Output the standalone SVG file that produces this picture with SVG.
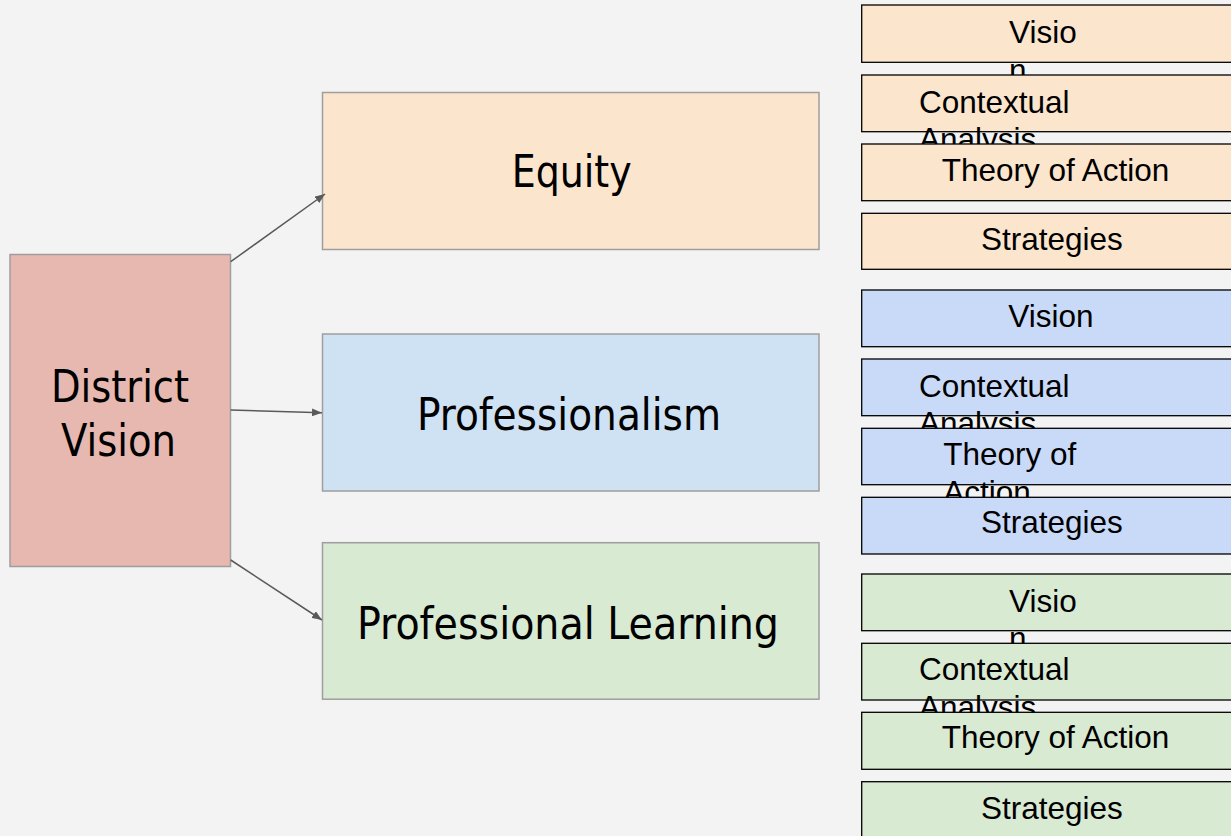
<svg xmlns="http://www.w3.org/2000/svg" width="1231" height="836" viewBox="0 0 1231 836">
<style>
.main{stroke:#9e9e9e;stroke-width:1.5}
.sub{stroke:#000;stroke-width:1.3}
.big{font-family:"DejaVu Sans Condensed","DejaVu Sans",sans-serif;font-size:45px;fill:#000;text-anchor:middle}
.sm{font-family:"Liberation Sans",Arial,sans-serif;font-size:31.5px;fill:#000}
.or{fill:#fce5cd}.bl{fill:#c9daf8}.gr{fill:#d9ead3}
.conn{stroke:#595959;stroke-width:1.5;fill:none}
</style>
<defs>
<marker id="ah" viewBox="0 0 10 8" refX="10" refY="4" markerWidth="10" markerHeight="8" markerUnits="userSpaceOnUse" orient="auto">
<path d="M0,0 L10,4 L0,8 Z" fill="#595959"/>
</marker>
</defs>
<rect width="1231" height="836" fill="#f3f3f3"/>
<g id="district-vision">
<rect class="main" x="10" y="254.5" width="220.5" height="312" fill="#e6b8af"/>
<text class="big" x="120" y="402" textLength="138" lengthAdjust="spacingAndGlyphs">District</text>
<text class="big" x="118.5" y="456" textLength="115" lengthAdjust="spacingAndGlyphs">Vision</text>
</g>
<g id="equity">
<rect class="main" x="322.5" y="92.5" width="496.5" height="157" fill="#fce5cd"/>
<text class="big" x="571.7" y="187" textLength="120" lengthAdjust="spacingAndGlyphs">Equity</text>
</g>
<g id="professionalism">
<rect class="main" x="322.5" y="334" width="496.5" height="157" fill="#cfe2f3"/>
<text class="big" x="569" y="430" textLength="304" lengthAdjust="spacingAndGlyphs">Professionalism</text>
</g>
<g id="professional-learning">
<rect class="main" x="322.5" y="542.7" width="496.5" height="156.5" fill="#d9ead3"/>
<text class="big" x="568" y="639" textLength="422" lengthAdjust="spacingAndGlyphs">Professional Learning</text>
</g>
<g id="connectors">
<line class="conn" x1="230.7" y1="261.7" x2="325" y2="194" marker-end="url(#ah)"/>
<line class="conn" x1="230.7" y1="410" x2="322" y2="412.7" marker-end="url(#ah)"/>
<line class="conn" x1="230.7" y1="560" x2="322" y2="620" marker-end="url(#ah)"/>
</g>
<g id="eq-vision">
<rect class="sub or" x="861.7" y="5" width="400" height="57.3"/>
<text class="sm" x="1009" y="43.3">Visio</text>
<text class="sm" x="1009" y="81">n</text>
</g>
<g id="eq-context">
<rect class="sub or" x="861.7" y="75" width="400" height="56.7"/>
<text class="sm" x="919" y="112.7">Contextual</text>
<text class="sm" x="919" y="150.4">Analysis</text>
</g>
<g id="eq-theory">
<rect class="sub or" x="861.7" y="144" width="400" height="56.7"/>
<text class="sm" x="941.7" y="181">Theory of Action</text>
</g>
<g id="eq-strategies">
<rect class="sub or" x="861.7" y="213.3" width="400" height="56"/>
<text class="sm" x="981" y="250">Strategies</text>
</g>
<g id="pr-vision">
<rect class="sub bl" x="861.7" y="290" width="400" height="56.7"/>
<text class="sm" x="1008.3" y="326.7">Vision</text>
</g>
<g id="pr-context">
<rect class="sub bl" x="861.7" y="359" width="400" height="56.7"/>
<text class="sm" x="919" y="396.7">Contextual</text>
<text class="sm" x="919" y="434.4">Analysis</text>
</g>
<g id="pr-theory">
<rect class="sub bl" x="861.7" y="428.3" width="400" height="56.4"/>
<text class="sm" x="943.3" y="465">Theory of</text>
<text class="sm" x="943.3" y="502.7">Action</text>
</g>
<g id="pr-strategies">
<rect class="sub bl" x="861.7" y="497.3" width="400" height="56.7"/>
<text class="sm" x="981" y="533.3">Strategies</text>
</g>
<g id="pl-vision">
<rect class="sub gr" x="861.7" y="574" width="400" height="56.7"/>
<text class="sm" x="1009" y="611.7">Visio</text>
<text class="sm" x="1009" y="649.4">n</text>
</g>
<g id="pl-context">
<rect class="sub gr" x="861.7" y="643.3" width="400" height="56.7"/>
<text class="sm" x="919" y="680">Contextual</text>
<text class="sm" x="919" y="717.7">Analysis</text>
</g>
<g id="pl-theory">
<rect class="sub gr" x="861.7" y="712.3" width="400" height="57"/>
<text class="sm" x="941.7" y="748.3">Theory of Action</text>
</g>
<g id="pl-strategies">
<rect class="sub gr" x="861.7" y="781.7" width="400" height="80"/>
<text class="sm" x="981" y="819.3">Strategies</text>
</g>
</svg>
